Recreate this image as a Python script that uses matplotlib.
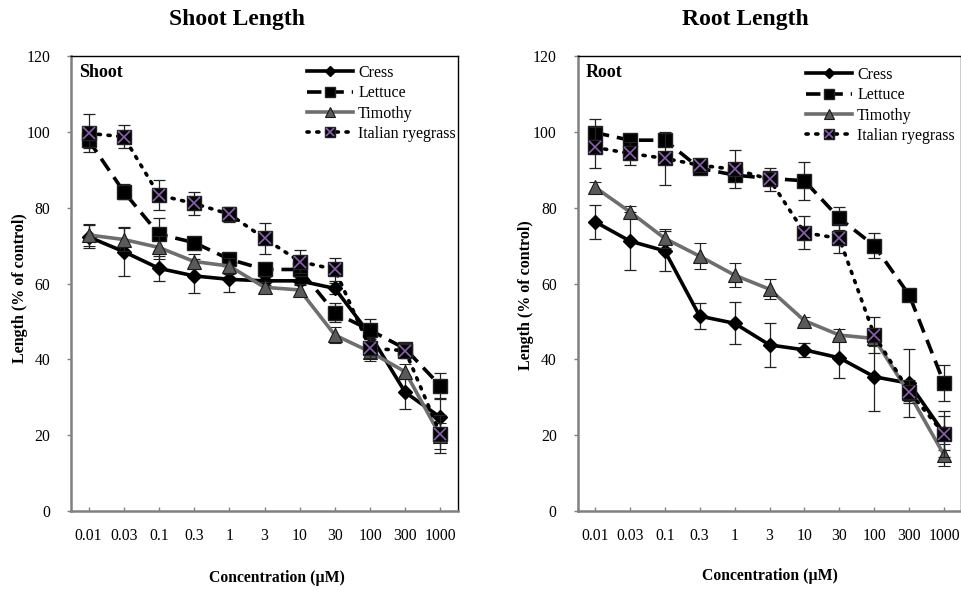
import matplotlib
matplotlib.use("Agg")
import matplotlib.pyplot as plt
import numpy as np

plt.rcParams['font.family'] = ['Liberation Serif', 'DejaVu Serif']

concentrations = ["0.01", "0.03", "0.1", "0.3", "1", "3", "10", "30", "100", "300", "1000"]
species = ["Cress", "Lettuce", "Timothy", "Italian ryegrass"]

shoot_cress = [72.3, 68.4, 64.0, 62.0, 61.1, 60.7, 60.7, 58.7, 46.5, 31.3, 24.7]
shoot_lettuce = [97.8, 84.2, 73.0, 70.8, 66.4, 63.7, 63.7, 52.3, 47.7, 42.8, 33.0]
shoot_timothy = [72.8, 71.6, 69.5, 65.8, 64.6, 59.0, 58.3, 46.4, 42.0, 36.7, 19.8]
shoot_rye = [99.6, 98.7, 83.3, 81.1, 78.3, 71.9, 65.8, 63.7, 42.9, 42.3, 20.3]

shoot_cress_err = [3.0, 6.5, 3.3, 4.4, 3.4, 1.0, 1.0, 1.5, 2.5, 4.3, 5.0]
shoot_lettuce_err = [2.0, 2.0, 4.4, 1.0, 1.0, 1.0, 1.0, 2.5, 3.0, 1.5, 3.4]
shoot_timothy_err = [3.0, 3.0, 3.0, 2.0, 2.0, 1.5, 1.5, 2.0, 2.5, 2.0, 3.5]
shoot_rye_err = [5.0, 3.0, 4.0, 3.0, 2.0, 4.0, 3.0, 3.0, 2.5, 2.0, 5.0]

root_cress = [76.3, 71.2, 68.6, 51.4, 49.5, 43.8, 42.5, 40.4, 35.4, 33.7, 20.5]
root_lettuce = [99.8, 97.8, 97.8, 90.4, 88.6, 87.7, 87.1, 77.2, 70.0, 57.0, 33.7]
root_timothy = [85.4, 78.9, 71.9, 67.2, 62.2, 58.5, 50.2, 46.4, 45.5, 31.0, 14.8]
root_rye = [95.9, 94.3, 93.0, 91.2, 90.1, 87.5, 73.4, 71.9, 46.4, 31.5, 20.3]

root_cress_err = [4.5, 7.7, 5.3, 3.4, 5.5, 5.8, 1.8, 5.2, 9.0, 9.0, 4.5]
root_lettuce_err = [3.7, 1.5, 1.5, 1.0, 1.5, 1.0, 5.0, 3.0, 3.2, 1.0, 4.8]
root_timothy_err = [1.3, 1.5, 2.5, 3.4, 3.2, 2.6, 1.0, 1.5, 2.0, 2.0, 3.0]
root_rye_err = [5.4, 3.0, 7.0, 1.5, 5.0, 3.0, 4.4, 3.9, 4.7, 3.0, 6.0]

yticks = [0, 20, 40, 60, 80, 100, 120]

fig = plt.figure(figsize=(9.61, 5.90), dpi=100)
W, H = 961, 590

def ax_rect(x0, x1, y0, y1):
    return [x0 / W, 1 - y1 / H, (x1 - x0) / W, (y1 - y0) / H]

ax1 = fig.add_axes(ax_rect(71, 458, 56, 511))
ax2 = fig.add_axes(ax_rect(577.5, 961.5, 56, 511))

GRAY = '#808080'
PURPLE = '#8a5fb0'

def draw(ax, data, errs, inner, leg_anchor):
    x = np.arange(len(concentrations))
    cress, lettuce, timothy, rye = data
    ec, el, et, er = errs
    ebkw = dict(ecolor='#222222', elinewidth=0.9, capsize=4, capthick=0.9)
    h1 = ax.errorbar(x, cress, yerr=ec, color='black', lw=2.6, marker='D', ms=7.5,
                     mfc='black', mec='black', zorder=3, **ebkw)
    h2 = ax.errorbar(x, lettuce, yerr=el, color='black', lw=2.6, ls=(0, (4, 2.2)), marker='s',
                     ms=9.5, mfc='black', mec='#222222', zorder=4, **ebkw)
    h3 = ax.errorbar(x, timothy, yerr=et, color='#6e6e6e', lw=2.6, marker='^', ms=10,
                     mfc='#5a5a5a', mec='#1a1a1a', mew=0.8, zorder=5, **ebkw)
    h4 = ax.errorbar(x, rye, yerr=er, color='black', lw=2.6, ls=(0, (0.6, 2.1)),
                     marker='s', ms=10, mfc='black', mec='#222222',
                     zorder=6, **ebkw)
    h4[0].set_dash_capstyle('round')
    hx, = ax.plot(x, rye, ls='none', marker='x', ms=8.5, mew=1.2, color=PURPLE, zorder=7)

    ax.set_xlim(-0.5, len(concentrations) - 0.5)
    ax.set_ylim(0, 120)
    ax.set_xticks(x)
    ax.set_xticklabels(concentrations, fontsize=11.3)
    ax.set_yticks(yticks)
    ax.set_yticklabels([str(v) for v in yticks], fontsize=11.3)
    ax.tick_params(axis='y', direction='out', length=3, width=1, color=GRAY, pad=12)
    ax.tick_params(axis='x', direction='in', length=3, width=1, color=GRAY, pad=12)
    for s in ['left', 'bottom']:
        ax.spines[s].set_color(GRAY)
        ax.spines[s].set_linewidth(1.8)
    for s in ['top', 'right']:
        ax.spines[s].set_color('black')
        ax.spines[s].set_linewidth(1.0)

    ax.text(0.022, 0.963, inner, transform=ax.transAxes, fontsize=13,
            fontweight='bold', va='center', ha='left')

    handles = [h1[0], h2[0], h3[0], (h4[0], hx)]
    ax.legend(handles, species, loc='upper left', bbox_to_anchor=leg_anchor,
              frameon=False, fontsize=11.5, handlelength=2.9, handletextpad=0.3,
              labelspacing=0.27, borderpad=0, borderaxespad=0, numpoints=1,
              markerscale=0.72)

draw(ax1, (shoot_cress, shoot_lettuce, shoot_timothy, shoot_rye),
     (shoot_cress_err, shoot_lettuce_err, shoot_timothy_err, shoot_rye_err),
     "Shoot", ((307 - 71) / 387, (511 - 65) / 455))
draw(ax2, (root_cress, root_lettuce, root_timothy, root_rye),
     (root_cress_err, root_lettuce_err, root_timothy_err, root_rye_err),
     "Root", ((806 - 577.5) / 384, (511 - 67) / 455))

fig.text(237 / W, 1 - 20 / H, "Shoot Length", fontsize=17, fontweight='bold',
         ha='center', va='center')
fig.text(745 / W, 1 - 20 / H, "Root Length", fontsize=17, fontweight='bold',
         ha='center', va='center')

fig.text(277 / W, 1 - 578 / H, "Concentration (µM)", fontsize=11.3, fontweight='bold',
         ha='center', va='center')
fig.text(770 / W, 1 - 576 / H, "Concentration (µM)", fontsize=11.3, fontweight='bold',
         ha='center', va='center')

fig.text(20 / W, 1 - 288 / H, "Length (% of control)", fontsize=11.5, fontweight='bold',
         ha='center', va='center', rotation=90)
fig.text(526 / W, 1 - 295 / H, "Length (% of control)", fontsize=11.5, fontweight='bold',
         ha='center', va='center', rotation=90)

fig.savefig("out.png", dpi=100)
